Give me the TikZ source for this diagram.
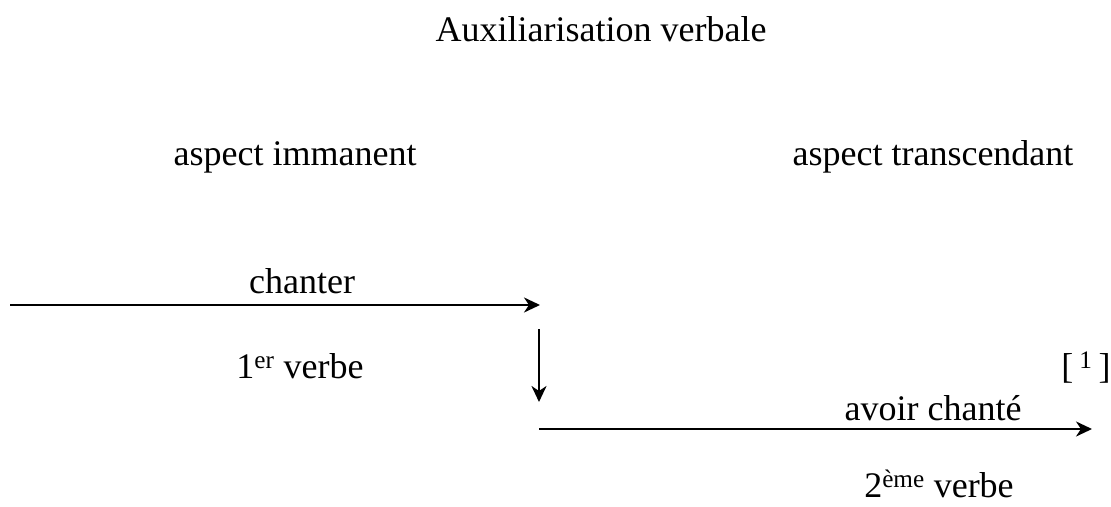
\documentclass[tikz,border=0pt]{standalone}
\usepackage{fontspec}
\setmainfont{Liberation Serif}
\usepackage{tikz}
\usetikzlibrary{arrows.meta,positioning}

\begin{document}
\begin{tikzpicture}[x=1pt,y=-1pt,>={Stealth[length=16pt,width=15pt,inset=5pt]},
  lbl/.style={anchor=base,inner sep=0pt,font=\fontsize{36}{43}\selectfont},
  arr/.style={->,line width=2.5pt}]
 \useasboundingbox (0,0) rectangle (1111,506);
 \node[lbl] (title) at (601,41) {Auxiliarisation verbale};
 \node[lbl] (immanent) at (295,165) {aspect immanent};
 \node[lbl] (transcendant) at (933,165) {aspect transcendant};
 % premier verbe
 \coordinate (a1) at (10,305);
 \coordinate (b1) at (540,305);
 \node[lbl] (chanter) at (302,293) {chanter};
 \node[lbl] (verbeI) at (300,378) {1\textsuperscript{er} verbe};
 \draw[arr] (a1) -- (b1);
 \coordinate (c1) at (539,329);
 \coordinate (c2) at (539,402);
 \draw[arr] (c1) -- (c2);
 % second verbe
 \coordinate (a2) at (539,429);
 \coordinate (b2) at (1092,429);
 \node[lbl] (chante) at (933,420) {avoir chanté};
 \node[lbl] (verbeII) at (939,497) {2\textsuperscript{ème} verbe};
 \node[lbl] (note) at (1086,378) {[\,\textsuperscript{1}\,]};
 \draw[arr] (a2) -- (b2);
\end{tikzpicture}
\end{document}
